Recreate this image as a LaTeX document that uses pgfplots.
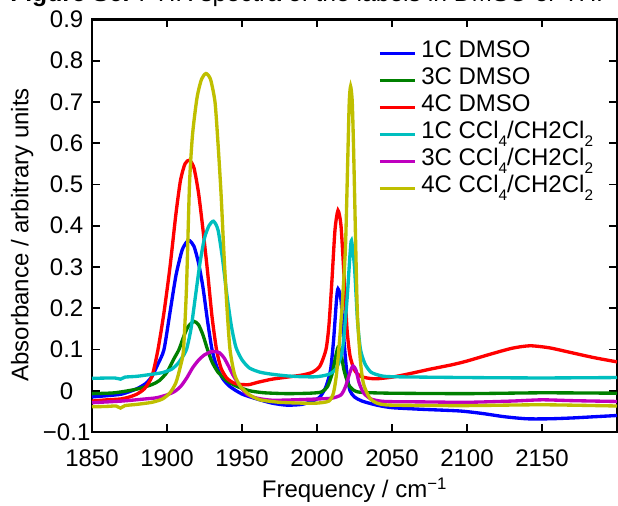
\documentclass[border=0pt]{standalone}
\usepackage{fontspec}
\setmainfont{Liberation Sans}
\usepackage{pgfplots}
\pgfplotsset{compat=1.18}

\definecolor{mblue}{RGB}{0,0,255}
\definecolor{mgreen}{RGB}{0,128,0}
\definecolor{mred}{RGB}{255,0,0}
\definecolor{mcyan}{RGB}{0,191,191}
\definecolor{mmagenta}{RGB}{191,0,191}
\definecolor{myellow}{RGB}{191,191,0}

\newcommand{\lbl}{\fontsize{18}{21}\selectfont}
% subscript set low, as in the original figure
\newcommand{\sub}[1]{\raisebox{-0.35em}{\fontsize{11.5}{12}\selectfont #1}}

\begin{document}
\begin{tikzpicture}
\begin{axis}[
    at={(0,0)}, anchor=south west,
    scale only axis,
    width=393.75pt, height=309.4pt,
    xmin=1850, xmax=2200,
    ymin=-0.1, ymax=0.9,
    axis line style={line width=1.6pt},
    tick style={line width=1.4pt, black},
    major tick length=6pt,
    tick align=inside,
    tick pos=both,
    xtick={1850,1900,1950,2000,2050,2100,2150},
    xticklabels={1850,1900,1950,2000,2050,2100,2150},
    ytick={-0.1,0,0.1,0.2,0.3,0.4,0.5,0.6,0.7,0.8,0.9},
    yticklabels={−0.1,0,0.1,0.2,0.3,0.4,0.5,0.6,0.7,0.8,0.9},
    xticklabel style={font=\lbl, anchor=center, yshift=-19.5pt},
    yticklabel style={font=\lbl, anchor=center, xshift=-19pt},
    xlabel={Frequency / cm\textsuperscript{−1}},
    ylabel={Absorbance / arbitrary units},
    x label style={font=\lbl, at={(axis description cs:0.5,-0.141)}, anchor=center},
    y label style={font=\lbl, at={(axis description cs:-0.133,0.478)}, anchor=center},
    legend style={at={(0.5448,0.951)}, anchor=north west, draw=none, fill=none,
        font=\lbl, inner sep=0pt, row sep=0pt,
        nodes={inner sep=0pt, text height=13pt, text depth=7.25pt}},
    legend cell align=left,
    legend image code/.code={\draw[#1] (0pt,0pt) -- (26pt,0pt); \path (29.75pt,0pt);},
    every axis plot/.append style={line width=2.5pt, smooth, tension=0.4},
]

% 1C DMSO
\addplot[mblue] coordinates {
(1850,-0.015) (1860,-0.012) (1870,-0.008) (1880,0.005) (1886,0.018) (1890,0.035)
(1894,0.065) (1898,0.10) (1902,0.19) (1906,0.28) (1910,0.34) (1913,0.36)
(1915,0.364) (1918,0.35) (1921,0.31) (1924,0.25) (1927,0.17) (1930,0.10)
(1933,0.06) (1937,0.03) (1942,0.010) (1950,-0.008) (1960,-0.020) (1970,-0.030)
(1980,-0.035) (1990,-0.033) (1997,-0.025) (2002,-0.015) (2006,0.010) (2009,0.05)
(2011,0.12) (2013,0.22) (2014,0.247) (2016,0.22) (2018,0.12) (2020,0.04)
(2022,0.0) (2025,-0.015) (2030,-0.025) (2040,-0.035) (2050,-0.041) (2070,-0.045)
(2095,-0.049) (2110,-0.055) (2125,-0.063) (2140,-0.068) (2155,-0.068) (2170,-0.066)
(2185,-0.063) (2200,-0.060)
};

% 3C DMSO
\addplot[mgreen] coordinates {
(1850,-0.007) (1865,-0.005) (1880,0.004) (1890,0.015) (1895,0.025) (1900,0.045)
(1905,0.08) (1908,0.10) (1911,0.13) (1914,0.155) (1918,0.168) (1921,0.16)
(1924,0.135) (1927,0.10) (1930,0.07) (1934,0.045) (1940,0.024) (1947,0.010)
(1955,0.0) (1965,-0.005) (1980,-0.007) (1995,-0.006) (2003,-0.003) (2007,0.01)
(2010,0.04) (2012,0.075) (2014,0.105) (2016,0.09) (2018,0.05) (2021,0.015)
(2025,0.0) (2030,-0.004) (2050,-0.006) (2100,-0.007) (2150,-0.005) (2200,-0.006)
};

% 4C DMSO
\addplot[mred] coordinates {
(1850,-0.025) (1860,-0.022) (1869,-0.020) (1875,-0.015) (1880,-0.008) (1885,0.005)
(1890,0.035) (1894,0.10) (1898,0.19) (1902,0.30) (1906,0.43) (1909,0.51)
(1912,0.55) (1915,0.559) (1918,0.54) (1921,0.48) (1924,0.39) (1927,0.29)
(1930,0.18) (1933,0.10) (1936,0.055) (1940,0.030) (1945,0.018) (1950,0.015)
(1955,0.015) (1960,0.020) (1970,0.028) (1980,0.033) (1990,0.038) (1997,0.045)
(2002,0.060) (2006,0.10) (2008,0.16) (2010,0.27) (2012,0.39) (2014,0.437)
(2016,0.40) (2018,0.28) (2020,0.15) (2022,0.085) (2025,0.05) (2029,0.035)
(2035,0.030) (2040,0.029) (2050,0.033) (2060,0.040) (2075,0.052) (2090,0.063)
(2100,0.072) (2115,0.088) (2130,0.103) (2142,0.109) (2155,0.104) (2170,0.092)
(2185,0.080) (2200,0.070)
};

% 1C CCl4/CH2Cl2
\addplot[mcyan] coordinates {
(1850,0.030) (1865,0.031) (1869,0.028) (1872,0.033) (1880,0.035) (1890,0.040)
(1897,0.044) (1903,0.052) (1907,0.065) (1910,0.080) (1913,0.10) (1916,0.15)
(1919,0.23) (1922,0.31) (1925,0.37) (1928,0.40) (1931,0.411) (1934,0.39)
(1937,0.32) (1940,0.23) (1943,0.155) (1946,0.105) (1950,0.075) (1955,0.055)
(1962,0.045) (1970,0.040) (1980,0.036) (1990,0.034) (2000,0.034) (2008,0.040)
(2013,0.055) (2017,0.10) (2020,0.22) (2022,0.33) (2023,0.364) (2025,0.30)
(2027,0.17) (2029,0.10) (2032,0.065) (2036,0.045) (2042,0.037) (2050,0.034)
(2100,0.032) (2150,0.031) (2200,0.032)
};

% 3C CCl4/CH2Cl2
\addplot[mmagenta] coordinates {
(1850,-0.029) (1870,-0.025) (1885,-0.020) (1893,-0.017) (1900,-0.010) (1905,-0.002)
(1909,0.010) (1913,0.030) (1917,0.055) (1921,0.074) (1925,0.087) (1929,0.094)
(1932,0.095) (1935,0.092) (1938,0.080) (1941,0.060) (1944,0.038) (1948,0.015)
(1953,-0.008) (1960,-0.018) (1970,-0.023) (1985,-0.022) (2000,-0.020) (2010,-0.018)
(2016,-0.010) (2019,0.010) (2022,0.045) (2024,0.060) (2026,0.050) (2028,0.020)
(2031,-0.005) (2036,-0.020) (2045,-0.026) (2070,-0.027) (2100,-0.028) (2130,-0.025)
(2150,-0.022) (2170,-0.024) (2200,-0.026)
};

% 4C CCl4/CH2Cl2
\addplot[myellow] coordinates {
(1850,-0.039) (1860,-0.038) (1866,-0.037) (1869,-0.042) (1872,-0.036) (1880,-0.033)
(1890,-0.028) (1897,-0.020) (1902,-0.005) (1906,0.02) (1909,0.06) (1911,0.10)
(1913,0.25) (1915,0.50) (1917,0.62) (1920,0.71) (1923,0.755) (1926,0.769)
(1929,0.755) (1932,0.70) (1934,0.60) (1936,0.48) (1938,0.33) (1940,0.20)
(1942,0.10) (1945,0.04) (1949,0.010) (1955,-0.010) (1962,-0.022) (1975,-0.028)
(1990,-0.030) (2000,-0.030) (2008,-0.025) (2011,-0.005) (2013,0.04) (2015,0.12)
(2017,0.22) (2019,0.35) (2020.5,0.56) (2021.5,0.70) (2022.4,0.738) (2023.5,0.70)
(2024.5,0.57) (2026,0.32) (2027,0.18) (2029,0.07) (2031,0.017) (2035,-0.017)
(2040,-0.030) (2050,-0.035) (2100,-0.036) (2150,-0.034) (2200,-0.037)
};

\legend{1C DMSO, 3C DMSO, 4C DMSO,
  1C CCl\sub{4}/CH2Cl\sub{2},
  3C CCl\sub{4}/CH2Cl\sub{2},
  4C CCl\sub{4}/CH2Cl\sub{2}}
\end{axis}
% caption line of the source page, cut by the top edge
\node[anchor=base west, inner sep=0pt, font=\fontsize{18.5}{20}\selectfont]
  at (-61.5pt,322.5pt) {\textbf{Figure S6.} FTIR spectra of the labels in DMSO or THF};
\pgfresetboundingbox
\useasboundingbox (-69pt,-55.5pt) rectangle (394.5pt,324pt);
\end{tikzpicture}
\end{document}
